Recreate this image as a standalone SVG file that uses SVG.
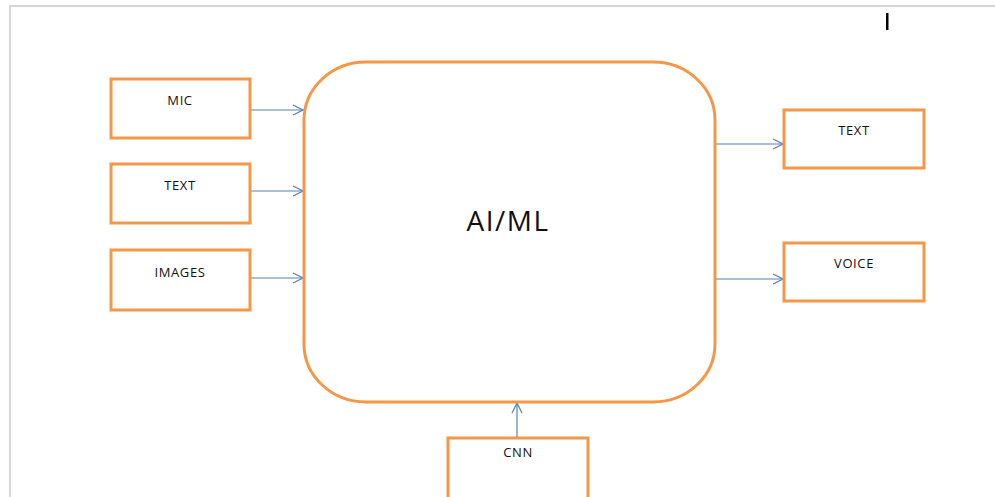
<svg xmlns="http://www.w3.org/2000/svg" width="995" height="497" viewBox="0 0 995 497">
  <defs>
    <marker id="arr" markerWidth="12" markerHeight="12" refX="11" refY="6" orient="auto" markerUnits="userSpaceOnUse">
      <path d="M1,1 L11,6 L1,11" fill="none" stroke="#4f81bd" stroke-width="1.2"/>
    </marker>
  </defs>
  <style>
    .box { fill: #ffffff; stroke: #f79646; stroke-width: 3; }
    .lbl { font-family: "Open Sans", "Liberation Sans", sans-serif; font-size: 13px; letter-spacing: 0.6px; fill: #111111; text-anchor: middle; }
    .big { font-family: "Open Sans", "Liberation Sans", sans-serif; font-size: 28px; letter-spacing: 1.5px; fill: #111111; text-anchor: middle; }
    .conn { stroke: #4f81bd; stroke-width: 1.2; fill: none; marker-end: url(#arr); }
    .frame { stroke: #c8c8d2; stroke-width: 1.5; fill: none; }
  </style>
  <rect x="0" y="0" width="995" height="497" fill="#ffffff"/>
  <path class="frame" d="M10,497 L10,6 L995,6"/>
  <rect x="886" y="13" width="2.5" height="17" fill="#000000"/>

  <g id="connectors">
    <line class="conn" x1="251" y1="110" x2="303" y2="110"/>
    <line class="conn" x1="251" y1="191" x2="303" y2="191"/>
    <line class="conn" x1="251" y1="278" x2="303" y2="278"/>
    <line class="conn" x1="716" y1="144" x2="783" y2="144"/>
    <line class="conn" x1="716" y1="279" x2="783" y2="279"/>
    <line class="conn" x1="517" y1="437" x2="517" y2="403"/>
  </g>

  <g id="aiml">
    <rect class="box" x="304" y="62" width="411" height="340" rx="62" ry="58"/>
    <text class="big" x="508" y="231">AI/ML</text>
  </g>
  <g id="mic">
    <rect class="box" x="111" y="79" width="139" height="59"/>
    <text class="lbl" x="180" y="105">MIC</text>
  </g>
  <g id="text-in">
    <rect class="box" x="111" y="164" width="139" height="59"/>
    <text class="lbl" x="180" y="190">TEXT</text>
  </g>
  <g id="images">
    <rect class="box" x="111" y="250" width="139" height="60"/>
    <text class="lbl" x="180" y="277">IMAGES</text>
  </g>
  <g id="text-out">
    <rect class="box" x="784" y="110" width="140" height="58"/>
    <text class="lbl" x="854" y="135">TEXT</text>
  </g>
  <g id="voice">
    <rect class="box" x="784" y="243" width="140" height="58"/>
    <text class="lbl" x="854" y="268">VOICE</text>
  </g>
  <g id="cnn">
    <rect class="box" x="448" y="438" width="140" height="62"/>
    <text class="lbl" x="518" y="457">CNN</text>
  </g>
</svg>
